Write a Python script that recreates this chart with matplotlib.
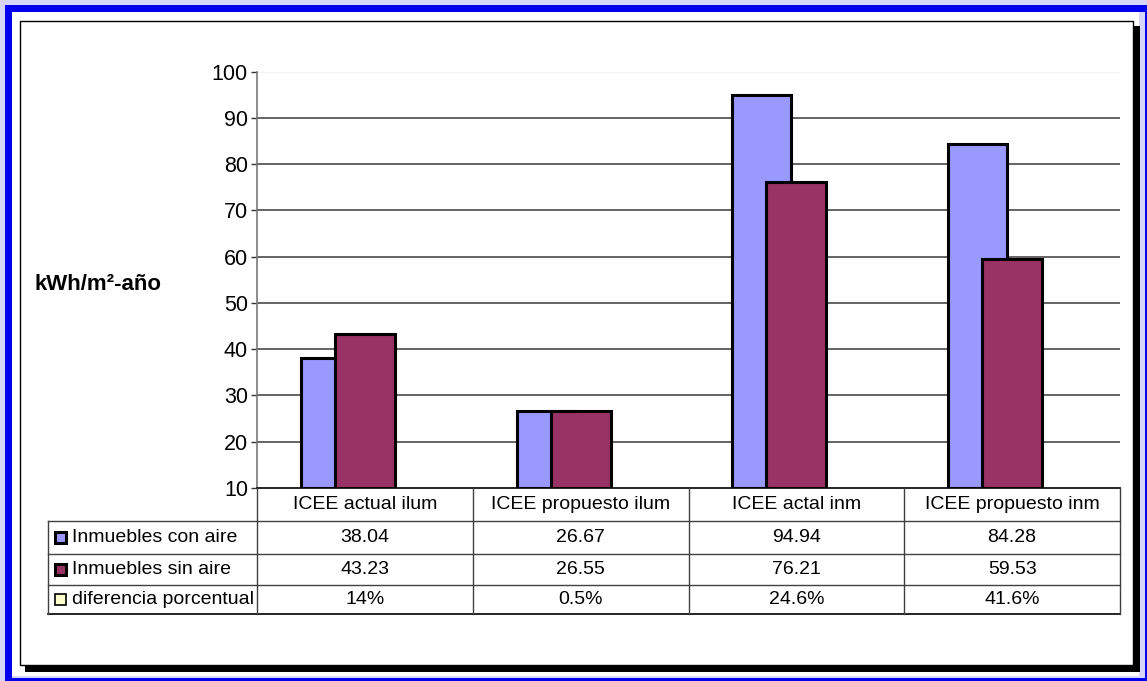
import matplotlib.pyplot as plt
from matplotlib.patches import Rectangle
from matplotlib.lines import Line2D

W, H = 1147, 681

categories = ['ICEE actual ilum', 'ICEE propuesto ilum', 'ICEE actal inm', 'ICEE propuesto inm']
con_aire = [38.04, 26.67, 94.94, 84.28]
sin_aire = [43.23, 26.55, 76.21, 59.53]
diferencia = ['14%', '0.5%', '24.6%', '41.6%']
series_names = ['Inmuebles con aire', 'Inmuebles sin aire', 'diferencia porcentual']
yticks = [10, 20, 30, 40, 50, 60, 70, 80, 90, 100]

c_blue = '#9999ff'
c_maroon = '#993366'
c_yellow = '#ffffcc'

plt.rcParams['font.family'] = ['Liberation Sans', 'DejaVu Sans']


def fx(x):
    return x / W


def fy(y):
    return 1 - y / H


def frect(x0, y0, x1, y1, **kw):
    # rectangle in image pixel coords (top-left origin)
    return Rectangle((fx(x0), fy(y1)), fx(x1) - fx(x0), fy(y0) - fy(y1),
                     transform=fig.transFigure, **kw)


def fline(x0, y0, x1, y1, **kw):
    return Line2D([fx(x0), fx(x1)], [fy(y0), fy(y1)], transform=fig.transFigure, **kw)


fig = plt.figure(figsize=(W / 100, H / 100), dpi=100, facecolor='#d6d6fb')

# outer frame
fig.add_artist(frect(5, 5, 1150, 690, facecolor='#0000ee', edgecolor='none', zorder=-6))
fig.add_artist(frect(12, 12, 1145, 678, facecolor='#d6d6fb', edgecolor='none', zorder=-5))
fig.add_artist(frect(12, 12, 1139, 676, facecolor='white', edgecolor='none', zorder=-4))
fig.add_artist(frect(25, 26, 1140, 672, facecolor='black', edgecolor='none', zorder=-3))
fig.add_artist(frect(20, 21, 1133, 665, facecolor='white', edgecolor='black', lw=1, zorder=-2))

# plot area
x_left, x_right, y_top, y_bot = 257, 1120, 71.5, 488
ax = fig.add_axes([fx(x_left), fy(y_bot), fx(x_right) - fx(x_left), fy(y_top) - fy(y_bot)])
ax.set_xlim(-0.5, 3.5)
ax.set_ylim(10, 100)

cw = (x_right - x_left) / 4.0
xs = range(len(categories))
ax.bar([i - 64 / cw for i in xs], [v - 10 for v in con_aire], bottom=10, width=59 / cw,
       align='edge', color=c_blue, edgecolor='black', linewidth=2.2, zorder=3)
ax.bar(list(xs), [v - 10 for v in sin_aire], bottom=10, width=60 / cw,
       color=c_maroon, edgecolor='black', linewidth=2.2, zorder=4)

for t in yticks[1:-1]:
    ax.axhline(t, color='#3a3a3a', lw=1.1, zorder=1)
ax.axhline(100, color='#f4f4f4', lw=1, zorder=1)

ax.set_yticks(yticks)
ax.set_xticks([])
ax.tick_params(axis='y', direction='out', length=4.5, width=1, color='#333333',
               labelsize=15.5, pad=2)
for s in ['top', 'right']:
    ax.spines[s].set_visible(False)
ax.spines['left'].set_color('#7a7a7a')
ax.spines['left'].set_linewidth(1.2)
ax.spines['bottom'].set_color('black')
ax.spines['bottom'].set_linewidth(1.2)

fig.text(fx(98), fy(284), 'kWh/m²-año', ha='center', va='center',
         fontsize=16, fontweight='bold')

# data table
t_left = 48
row_y = [488, 521, 554, 585, 614]
col_x = [x_left + cw * k for k in range(5)]
lc = '#404040'
for y in row_y[1:4]:
    fig.add_artist(fline(t_left, y, x_right, y, color=lc, lw=1))
fig.add_artist(fline(t_left, row_y[-1], x_right, row_y[-1], color='black', lw=1.2))
fig.add_artist(fline(t_left, row_y[1], t_left, row_y[-1], color=lc, lw=1))
for x in col_x:
    fig.add_artist(fline(x, row_y[0], x, row_y[-1], color=lc, lw=1))

fs = 14
for k, name in enumerate(categories):
    cx = (col_x[k] + col_x[k + 1]) / 2
    fig.text(fx(cx), fy((row_y[0] + row_y[1]) / 2), name, ha='center', va='center', fontsize=fs)
    rows = [f'{con_aire[k]:.2f}', f'{sin_aire[k]:.2f}', diferencia[k]]
    for r, val in enumerate(rows):
        fig.text(fx(cx), fy((row_y[r + 1] + row_y[r + 2]) / 2), val,
                 ha='center', va='center', fontsize=fs)

for r, (name, col) in enumerate(zip(series_names, [c_blue, c_maroon, c_yellow])):
    yc = (row_y[r + 1] + row_y[r + 2]) / 2
    fig.add_artist(frect(55, yc - 6, 66, yc + 5, facecolor=col, edgecolor='black',
                         lw=2.2 if r < 2 else 1.2, zorder=3))
    fig.text(fx(72), fy(yc), name, ha='left', va='center', fontsize=fs)

fig.savefig('out.png', dpi=100)
